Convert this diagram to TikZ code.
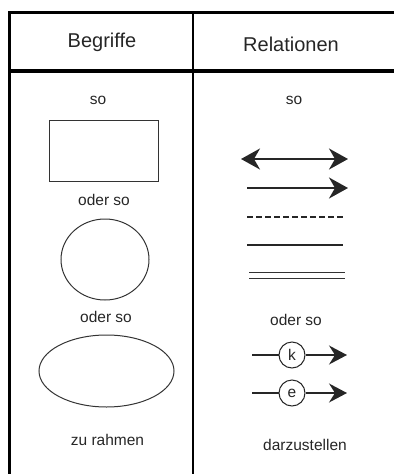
\documentclass[tikz,border=0pt]{standalone}
\usepackage{fontspec}
\setmainfont{Liberation Sans}
\usetikzlibrary{arrows.meta,shapes.geometric}
\begin{document}
\begin{tikzpicture}[x=1pt,y=-1pt,
  rule/.style={line width=3.4pt,black},
  divider/.style={line width=2pt,black},
  head/.style={font=\fontsize{20}{24}\selectfont,text=black!85,inner sep=0pt},
  lbl/.style={font=\fontsize{15.5}{18}\selectfont,text=black!85,inner sep=0pt},
  outl/.style={draw=black!80,line width=1pt,inner sep=0pt},
  rel/.style={line width=2pt,black!85},
  tipshape/.style={Stealth[length=19pt,width=21pt,inset=6pt]},
  tip/.style={-{Stealth[length=19pt,width=21pt,inset=6pt]}},
  thinline/.style={line width=1pt,black!80},
  ring/.style={circle,draw=black!85,line width=1pt,minimum size=26pt,inner sep=0pt,font=\fontsize{15.5}{18}\selectfont,text=black!85}]
\useasboundingbox (0,0) rectangle (394,474);
% table rules
\coordinate (tl) at (8,12.5);
\coordinate (tr) at (394,12.5);
\coordinate (hl) at (8,71);
\coordinate (hr) at (394,71);
\coordinate (lt) at (9.5,11);
\coordinate (lb) at (9.5,474);
\coordinate (dt) at (192.5,12);
\coordinate (db) at (192.5,474);
\draw[rule] (tl) -- (tr);
\draw[rule] (hl) -- (hr);
\draw[rule] (lt) -- (lb);
\draw[divider] (dt) -- (db);
% headers
\node[head] (hb) at (102,42) {Begriffe};
\node[head] (hr2) at (291,44) {Relationen};
% left column
\node[lbl] (so1) at (98,100) {so};
\node[outl,rectangle,minimum width=109pt,minimum height=61pt] (rect) at (103.5,150.5) {};
\node[lbl] (os1) at (104,200) {oder so};
\node[outl,ellipse,minimum width=88pt,minimum height=81pt] (circ) at (105,259.5) {};
\node[lbl] (os2) at (106,317) {oder so};
\node[outl,ellipse,minimum width=135pt,minimum height=72pt] (ell) at (106.5,371) {};
\node[lbl] (zr) at (107.5,440) {zu rahmen};
% right column
\node[lbl] (so2) at (294,100) {so};
\coordinate (a1) at (241,159);
\coordinate (b1) at (348,159);
\draw[rel,{Stealth[length=19pt,width=21pt,inset=6pt]}-{Stealth[length=19pt,width=21pt,inset=6pt]}] (a1) -- (b1);
\coordinate (a2) at (247,188);
\coordinate (b2) at (348,188);
\draw[rel,tip] (a2) -- (b2);
\coordinate (a3) at (247,217);
\coordinate (b3) at (344,217);
\draw[rel,dash pattern=on 6pt off 3pt] (a3) -- (b3);
\coordinate (a4) at (247,245);
\coordinate (b4) at (343,245);
\draw[rel] (a4) -- (b4);
\coordinate (a5) at (249,272.5);
\coordinate (b5) at (345,272.5);
\coordinate (a6) at (249,278);
\coordinate (b6) at (345,278);
\draw[thinline] (a5) -- (b5);
\draw[thinline] (a6) -- (b6);
\node[lbl] (os3) at (296,320) {oder so};
\coordinate (ka) at (252,355);
\node[ring] (k) at (292,355) {k};
\coordinate (kb) at (347,355);
\draw[rel,line width=1.5pt] (ka) -- (k);
\draw[rel,line width=1.5pt,-{Stealth[length=18pt,width=19pt,inset=6pt]}] (k) -- (kb);
\coordinate (ea) at (252,393);
\node[ring] (e) at (292,393) {e};
\coordinate (eb) at (347,393);
\draw[rel,line width=1.5pt] (ea) -- (e);
\draw[rel,line width=1.5pt,-{Stealth[length=18pt,width=19pt,inset=6pt]}] (e) -- (eb);
\node[lbl] (dz) at (305,445) {darzustellen};
\end{tikzpicture}
\end{document}
